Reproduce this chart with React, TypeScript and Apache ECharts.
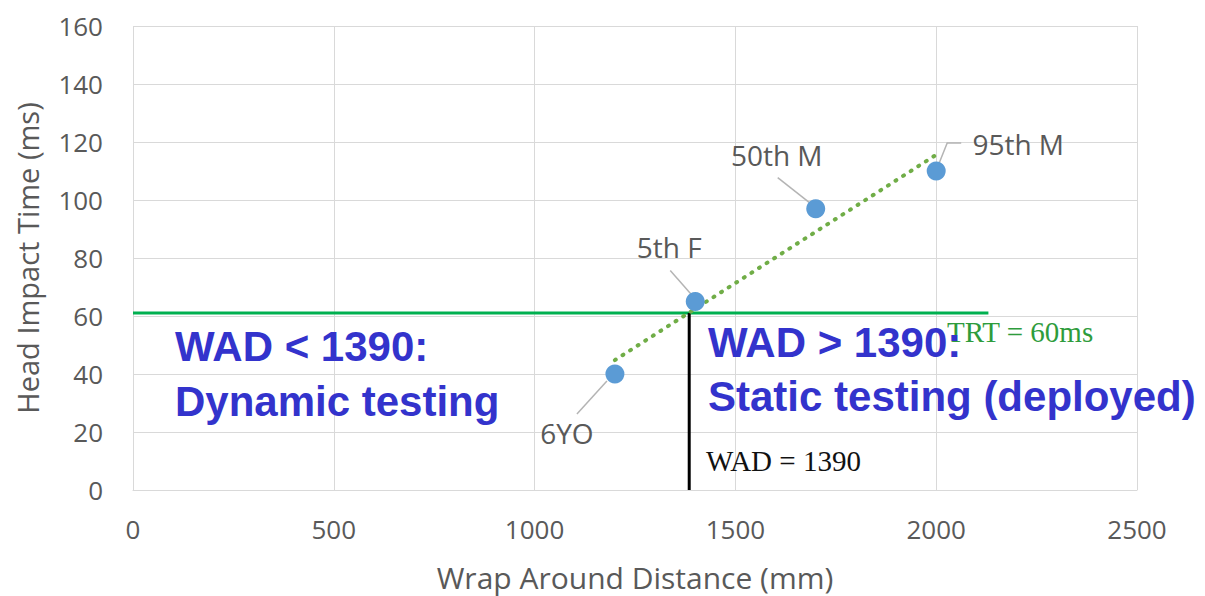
import React, { useEffect, useRef } from "react";
import * as echarts from "echarts";

const pointNames = ["6YO", "5th F", "50th M", "95th M"];
const pointX = [1200, 1400, 1700, 2000];
const pointY = [40, 65, 97, 110];
const trendX = [1200, 2000];
const trendY = [44.8, 115.6];
const trtLineX = [0, 2130];
const trtValue = 61;
const wadValue = 1385;
const xTicks = [0, 500, 1000, 1500, 2000, 2500];
const yTicks = [0, 20, 40, 60, 80, 100, 120, 140, 160];

// label placement (pixel offsets from the marker)
const labelOffsets: Record<string, [number, number]> = {
  "6YO": [-48, 59],
  "5th F": [-26, -55],
  "50th M": [-39, -54],
  "95th M": [82, -27],
};
// leader line shapes (pixel offsets from the marker)
const leaderOffsets: Record<string, [number, number][]> = {
  "6YO": [
    [-38, 40],
    [-8, 7],
  ],
  "5th F": [
    [-25, -31],
    [-3, -6],
  ],
  "50th M": [
    [-38, -31],
    [-5, -5],
  ],
  "95th M": [
    [3, -8],
    [11, -28],
    [25, -28],
  ],
};

export default function App() {
  const ref = useRef<HTMLDivElement>(null);
  useEffect(() => {
    if (!ref.current) return;
    const chart = echarts.init(ref.current, undefined, { renderer: "svg" });
    const grey = "#595959";
    const font = "Open Sans";
    chart.setOption({
      animation: false,
      backgroundColor: "#ffffff",
      grid: { left: 133, right: 68, top: 26, bottom: 106, outerBoundsMode: "none", containLabel: false },
      xAxis: {
        type: "value",
        min: xTicks[0],
        max: xTicks[xTicks.length - 1],
        interval: 500,
        name: "Wrap Around Distance (mm)",
        nameLocation: "middle",
        nameGap: 72,
        nameTextStyle: { color: grey, fontSize: 30, fontFamily: font },
        axisLine: { show: true, lineStyle: { color: "#d9d9d9", width: 1 } },
        axisTick: { show: false },
        axisLabel: {
          color: grey,
          fontSize: 26,
          fontFamily: font,
          margin: 26,
          formatter: (v: number) => String(v),
        },
        splitLine: { show: true, lineStyle: { color: "#d9d9d9", width: 1 } },
      },
      yAxis: {
        type: "value",
        min: yTicks[0],
        max: yTicks[yTicks.length - 1],
        interval: 20,
        name: "Head Impact Time (ms)",
        nameLocation: "middle",
        nameGap: 91,
        nameTextStyle: { color: grey, fontSize: 29, fontFamily: font },
        axisLine: { show: false },
        axisTick: { show: false },
        axisLabel: { color: grey, fontSize: 26, fontFamily: font, margin: 30 },
        splitLine: { show: true, lineStyle: { color: "#d9d9d9", width: 1 } },
      },
      series: [
        {
          type: "line",
          data: trtLineX.map((x) => [x, trtValue]),
          symbol: "none",
          lineStyle: { color: "#00b050", width: 3 },
          z: 3,
        },
        {
          type: "line",
          data: [
            [wadValue, 0],
            [wadValue, trtValue],
          ],
          symbol: "none",
          lineStyle: { color: "#000000", width: 3 },
          z: 3,
        },
        {
          type: "custom",
          data: pointX.map((x, i) => [x, pointY[i]]),
          z: 2,
          silent: true,
          renderItem: (params: any, api: any) => {
            const c = api.coord([api.value(0), api.value(1)]);
            const name = pointNames[params.dataIndex];
            const pts = leaderOffsets[name].map(([dx, dy]) => [c[0] + dx, c[1] + dy]);
            return {
              type: "polyline",
              shape: { points: pts },
              style: { stroke: "#b4b4b4", lineWidth: 1.5, fill: "none" },
            };
          },
        },
        {
          type: "line",
          data: trendX.map((x, i) => [x, trendY[i]]),
          symbol: "none",
          lineStyle: { color: "#70ad47", width: 4, type: [1, 8], cap: "round" },
          z: 4,
        },
        {
          type: "scatter",
          data: pointX.map((x, i) => ({ value: [x, pointY[i]], name: pointNames[i] })),
          symbolSize: 19,
          itemStyle: { color: "#5b9bd5", opacity: 1 },
          z: 5,
          label: {
            show: true,
            position: "inside",
            formatter: "{b}",
            color: grey,
            fontSize: 28,
            fontFamily: font,
          },
          labelLayout: (p: any) => {
            const name = pointNames[p.dataIndex];
            const [dx, dy] = labelOffsets[name];
            return { dx, dy };
          },
        },
      ],
      graphic: [
        {
          type: "text",
          left: 175,
          top: 319,
          style: {
            text: "WAD < 1390:\nDynamic testing",
            fill: "#3333cc",
            font: "bold 42px 'Liberation Sans', Arial, sans-serif",
            lineHeight: 55,
          },
          z: 10,
        },
        {
          type: "text",
          left: 708,
          top: 315,
          style: {
            text: "WAD > 1390:\nStatic testing (deployed)",
            fill: "#3333cc",
            font: "bold 42px 'Liberation Sans', Arial, sans-serif",
            lineHeight: 54,
          },
          z: 10,
        },
        {
          type: "text",
          left: 947,
          top: 317,
          style: {
            text: "TRT = 60ms",
            fill: "#2e9c3c",
            font: "29px 'Liberation Serif', 'Times New Roman', serif",
          },
          z: 9,
        },
        {
          type: "text",
          left: 706,
          top: 446,
          style: {
            text: "WAD = 1390",
            fill: "#111111",
            font: "29px 'Liberation Serif', 'Times New Roman', serif",
          },
          z: 9,
        },
      ],
    });
    return () => chart.dispose();
  }, []);
  return (
    <div
      ref={ref}
      style={{ position: "fixed", left: 0, top: 0, width: 1205, height: 596 }}
    />
  );
}
